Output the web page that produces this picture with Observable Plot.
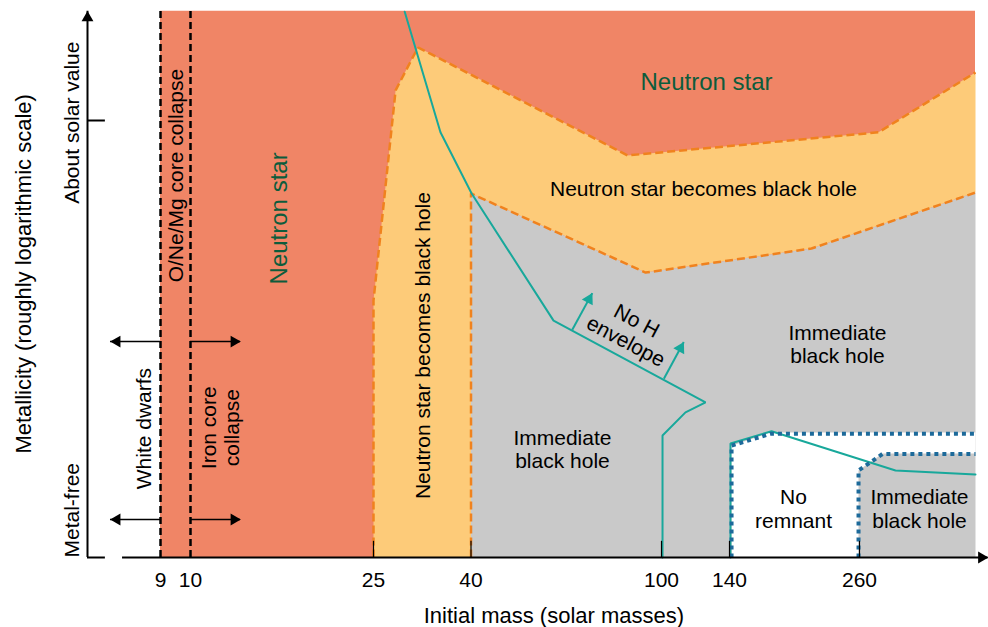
<!DOCTYPE html>
<html><head><meta charset="utf-8">
<script src="https://cdn.jsdelivr.net/npm/d3@7"></script>
<script src="https://cdn.jsdelivr.net/npm/@observablehq/plot@0.6"></script>
<style>body{margin:0;background:#fff} svg{display:block}</style>
</head><body>
<script>
// ---------------- data (mass in solar masses, metallicity index: 0 = metal-free, 1 = about solar) ----------------
const massTicks = [9, 10, 25, 40, 100, 140, 260];
const scaleMass = [7, 9, 10, 25, 40, 100, 140, 260, 500];
const zTop = 1.25;

// "Neutron star becomes black hole" (yellow)
const yellowMass = [25, 25, 28.4, 31.2, 31.9, 89.3, 299.3, 500, 500, 215.7, 95.0, 40, 40];
const yellowZ    = [0, 0.588, 1.069, 1.149, 1.167, 0.920, 0.973, 1.110, 0.835, 0.707, 0.652, 0.833, 0];

// "Immediate black hole" (grey)
const greyMass = [40, 40, 95.0, 215.7, 500, 500];
const greyZ    = [0, 0.833, 0.652, 0.707, 0.835, 0];

// orange dashed boundaries
const upperBoundMass = [25, 25, 28.4, 31.2, 31.9, 89.3, 299.3, 500];
const upperBoundZ    = [0, 0.588, 1.069, 1.149, 1.167, 0.920, 0.973, 1.110];
const lowerBoundMass = [40, 40, 95.0, 215.7, 500];
const lowerBoundZ    = [0, 0.833, 0.652, 0.707, 0.835];

// "No remnant" (white)
const noRemMass = [141.9, 141.9, 177.8, 500, 500, 307.6, 259.1, 259.1];
const noRemZ    = [0, 0.256, 0.286, 0.286, 0.238, 0.238, 0.199, 0];

// blue dotted boundaries
const pairLowMass  = [141.9, 141.9, 177.8, 500];
const pairLowZ     = [0, 0.256, 0.283, 0.283];
const pairHighMass = [259.1, 259.1, 307.6, 500];
const pairHighZ    = [0, 0.199, 0.237, 0.237];

// teal lines (hydrogen envelope)
const hEnvMass  = [29.8, 35.3, 40.2, 66.0, 125.9, 114.1, 100.6, 100.6];
const hEnvZ     = [1.249, 0.973, 0.833, 0.542, 0.355, 0.332, 0.279, 0];
const hEnv2Mass = [140.9, 140.9, 178.8, 334.5, 500];
const hEnv2Z    = [0, 0.261, 0.289, 0.199, 0.190];

// "No H envelope" arrows
const envBaseMass = [71.9, 101.4];
const envBaseZ    = [0.521, 0.409];
const envTipMass  = [78.2, 113.1];
const envTipZ     = [0.605, 0.493];

// side arrows (white dwarfs / iron core collapse)
const sideArrowZ = [0.494, 0.087];
const wdFrom = 9, wdTo = 7.63;
const ironFrom = 10, ironTo = 14.1;

// region labels
const labelText  = ["Neutron star", "Neutron star", "O/Ne/Mg core collapse", "Neutron star becomes black hole",
                    "Neutron star becomes black hole", "Immediate\nblack hole", "Immediate\nblack hole", "No\nremnant",
                    "Immediate\nblack hole", "White dwarfs", "Iron core\ncollapse", "No H\nenvelope"];
const labelMass  = [126.5, 17.21, 9.5, 32.6, 124.7, 68.8, 239.7, 199.1, 384.1, 8.53, 12.42, 90.55];
const labelZ     = [1.088, 0.776, 0.874, 0.485, 0.845, 0.249, 0.489, 0.112, 0.112, 0.295, 0.297, 0.519];
const labelAngle = [0, -90, -90, -90, 0, 0, 0, 0, 0, -90, -90, 28];
const labelGreen = [true, true, false, false, false, false, false, false, false, false, false, false];

// axis texts
const yAxisTitle = "Metallicity (roughly logarithmic scale)";
const xAxisTitle = "Initial mass (solar masses)";
const solarLabel = "About solar value";
const metalFreeLabel = "Metal-free";
const axisMassLeft = 7;      // y-axis position
const axisGapEnd = 7.49;     // end of left stub
const axisRestart = 7.96;    // x-axis restarts
const axisEnd = 526;         // arrow tip

// ---------------- build ----------------
const pts = (ms, zs) => ms.map((m, i) => ({m, z: zs[i]}));
const labels = labelText.map((t, i) => ({t, m: labelMass[i], z: labelZ[i], a: labelAngle[i], g: labelGreen[i]}));
const envArrows = envBaseMass.map((m, i) => ({m1: m, z1: envBaseZ[i], m2: envTipMass[i], z2: envTipZ[i]}));

const C = {
  salmon: "#F08566", yellow: "#FDCB79", grey: "#C9C9C9", orange: "#F0821E",
  teal: "#18A89B", blue: "#1D6A9A", green: "#0D5C3C"
};
const font = "'Liberation Sans', Arial, Helvetica, sans-serif";
const dashStyle = {stroke: C.orange, strokeWidth: 2.5, strokeDasharray: "8,4", strokeLinecap: "butt", strokeLinejoin: "miter"};

const chart = Plot.plot({
  width: 988, height: 627,
  marginLeft: 0, marginRight: 0, marginTop: 0, marginBottom: 0,
  x: {type: "linear", domain: scaleMass, range: [87, 160, 190, 373, 470.5, 661, 729, 859, 975], axis: null},
  y: {type: "linear", domain: [0, 1], range: [557, 120], axis: null},
  style: {fontFamily: font, background: "white", overflow: "visible"},
  marks: [
    Plot.rect([0], {x1: 9, x2: 500, y1: 0, y2: zTop, fill: C.salmon}),
    Plot.line(pts(yellowMass, yellowZ), {x: "m", y: "z", fill: C.yellow, stroke: "none"}),
    Plot.line(pts(greyMass, greyZ), {x: "m", y: "z", fill: C.grey, stroke: "none"}),
    Plot.line(pts(noRemMass, noRemZ), {x: "m", y: "z", fill: "white", stroke: "none"}),
    Plot.line(pts(upperBoundMass, upperBoundZ), {x: "m", y: "z", ...dashStyle}),
    Plot.line(pts(lowerBoundMass, lowerBoundZ), {x: "m", y: "z", ...dashStyle}),
    Plot.ruleX([wdFrom, ironFrom], {x: d => d, y1: 0, y2: zTop, stroke: "black", strokeWidth: 2.5, strokeDasharray: "7,4"}),
    Plot.line(pts(hEnvMass, hEnvZ), {x: "m", y: "z", stroke: C.teal, strokeWidth: 2, strokeLinejoin: "miter"}),
    Plot.line(pts(hEnv2Mass, hEnv2Z), {x: "m", y: "z", stroke: C.teal, strokeWidth: 2, strokeLinejoin: "miter"}),
    Plot.line(pts(pairLowMass, pairLowZ), {x: "m", y: "z", stroke: C.blue, strokeWidth: 4, strokeDasharray: "4,4", strokeLinecap: "butt"}),
    Plot.line(pts(pairHighMass, pairHighZ), {x: "m", y: "z", stroke: C.blue, strokeWidth: 4, strokeDasharray: "4,4", strokeLinecap: "butt"}),
    // envelope arrows
    Plot.link(envArrows, {x1: "m1", y1: "z1", x2: "m2", y2: "z2", stroke: C.teal, strokeWidth: 2}),
    Plot.dot(envArrows, {x: "m2", y: "z2", symbol: "triangle", r: 4.6, fill: C.teal, stroke: "none", rotate: 28.6, dx: -3.3, dy: 6.1}),
    // side arrows
    Plot.ruleY(sideArrowZ, {y: d => d, x1: wdFrom, x2: wdTo, stroke: "black", strokeWidth: 1.5}),
    Plot.ruleY(sideArrowZ, {y: d => d, x1: ironFrom, x2: ironTo, stroke: "black", strokeWidth: 1.5}),
    Plot.dot(sideArrowZ, {x: wdTo, y: d => d, symbol: "triangle", r: 4.4, fill: "black", stroke: "none", rotate: -90, dx: 6.5}),
    Plot.dot(sideArrowZ, {x: ironTo, y: d => d, symbol: "triangle", r: 4.4, fill: "black", stroke: "none", rotate: 90, dx: -6.5}),
    // axes
    Plot.ruleX([axisMassLeft], {x: d => d, y1: 0, y2: zTop, stroke: "black", strokeWidth: 2}),
    Plot.ruleY([0], {y: 0, x1: axisMassLeft, x2: axisGapEnd, stroke: "black", strokeWidth: 2}),
    Plot.ruleY([0], {y: 0, x1: axisRestart, x2: axisEnd, stroke: "black", strokeWidth: 2}),
    Plot.ruleY([1], {y: 1, x1: axisMassLeft, x2: axisGapEnd, stroke: "black", strokeWidth: 2}),
    Plot.dot([0], {x: axisMassLeft, y: zTop, symbol: "triangle", r: 4.4, fill: "black", stroke: "none", dy: 6.5}),
    Plot.dot([0], {x: axisEnd, y: 0, symbol: "triangle", r: 4.4, fill: "black", stroke: "none", rotate: 90, dx: -6.5}),
    Plot.ruleX(massTicks.filter(d => d > 10), {x: d => d, y1: 0, y2: 0.037, stroke: "black", strokeWidth: 1.2}),
    Plot.text(massTicks, {x: d => d, y: -0.052, text: d => String(d), fontSize: 21, fill: "black"}),
    Plot.text([xAxisTitle], {x: 66.1, y: -0.133, text: d => d, fontSize: 22, fill: "black"}),
    Plot.text([yAxisTitle], {x: 5.27, y: 0.649, text: d => d, fontSize: 22, fill: "black", rotate: -90}),
    Plot.text([solarLabel], {x: 6.59, y: 0.995, text: d => d, fontSize: 21, fill: "black", rotate: -90}),
    Plot.text([metalFreeLabel], {x: 6.59, y: 0, text: d => d, fontSize: 21, fill: "black", rotate: -90, textAnchor: "start"}),
    // region labels
    Plot.text(labels, {x: "m", y: "z", text: "t", rotate: "a", fill: d => d.g ? C.green : "black",
      fontSize: d => d.g ? 24 : 21, lineHeight: 1.1})
  ]
});
document.body.appendChild(chart);
</script>
</body></html>
